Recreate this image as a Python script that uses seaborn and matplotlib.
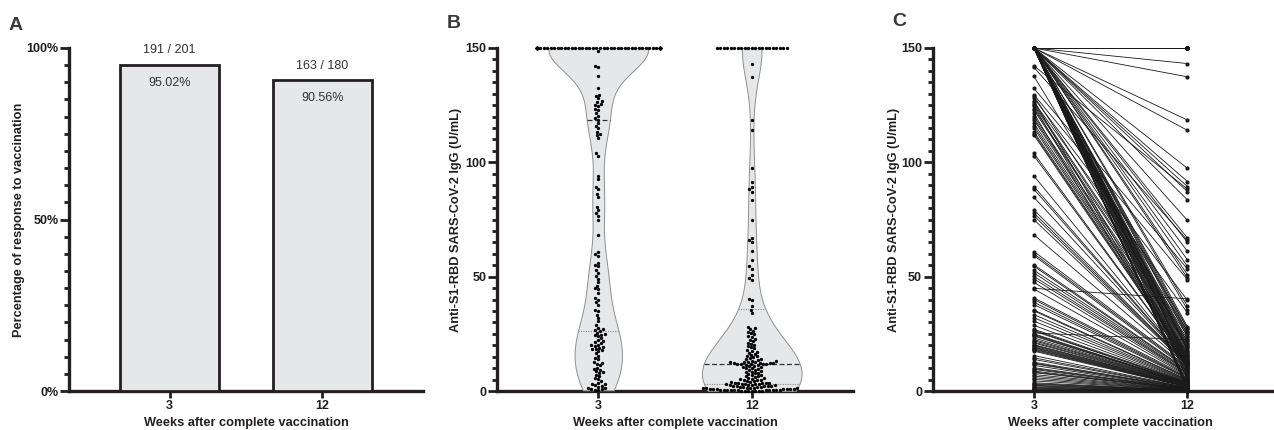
import warnings
import numpy as np
import pandas as pd
import matplotlib
matplotlib.use("Agg")
import matplotlib.pyplot as plt
from matplotlib.ticker import MultipleLocator
import seaborn as sns

# ---------------- data ----------------
weeks = ["3", "12"]
responders = [191, 163]
totals = [201, 180]

paired_week3 = [150.0] * 72 + [
    142.2, 141.5, 137.6, 132.3, 129.5, 129, 128, 127, 126.3, 125.7, 125, 124.6, 123.5, 122.8, 121.4, 120.2, 119.2,
    118.5, 117, 115.8, 114.8, 113.4, 112.6, 111.9, 103.9, 102.8, 94, 89.4, 88.2, 84.7, 79.2, 77.8, 76.6, 74.9,
    68.3, 61, 60, 59.2, 55.2, 54.5, 52.8, 51.6, 50.1, 49, 47.5, 44.9, 44.6, 40.7, 40, 38.8, 37.8, 35.4, 35, 33.4,
    32, 30.5, 28.7, 27, 26.5, 26.2,
    25.4, 25, 24.7, 24.3, 24, 23.2, 22.5, 22, 21.4, 21, 20.3, 20, 19.6, 19.2, 18.9, 18.5, 18.2, 17.8, 17.4, 15.5,
    14.5, 13.8, 12.6, 12.2, 11.9, 11.2, 10.2, 9.8, 9.4, 8.7, 8.3, 8, 7.2, 6.5, 5.8, 5.1, 4.4, 3.6, 3.2, 2.9, 2.5,
    2.2, 1.8, 1.5, 1.2, 0.9, 0.7, 0.3,
]

paired_week12 = [150.0] * 21 + [
    143.2, 137.4, 118.5, 114, 97.4, 91.6, 89.4, 87.2, 83.6, 74.6, 66.9, 65, 61.1, 57.4, 54.5, 50.9, 49.4, 18.6,
    37.1, 35.6, 28.2, 27.1, 25.9, 24.8, 23.7, 17.7, 21.2, 20.1, 19.2, 18.1, 17.2, 16.3, 15.4, 14.7, 14.0, 13.3,
    12.8, 12.5, 12.2, 11.6, 10.4, 9.3, 8.3, 7.2, 6.2, 5.2, 2.8, 2.2, 1.6, 1.0, 0.6,
    88.3, 65.9, 27.6, 53.4, 48.7, 26.4, 39.7, 11.9, 34.2, 25.3, 24.1, 10.9, 22.9, 21.8, 9.9, 20.7, 19.5,
    16.8, 15.9, 15.1, 14.4, 13.8, 13.5, 13.0, 12.7, 12.6, 12.4, 12.3, 12.1, 12.0, 12.0, 11.8, 11.5, 11.3, 11.1,
    10.6, 10.1, 9.6, 9.1, 8.8, 8.5, 8.0, 7.8, 7.5, 7.0, 40.3, 6.7, 6.4, 5.9, 5.7, 5.4, 5.0, 4.8, 4.6, 4.4, 4.2,
    4.0, 3.9, 3.7, 3.6,
    22.4, 3.5, 3.4, 3.3, 3.2, 3.1, 3.05, 3.0, 2.9, 2.7, 2.6, 2.5, 2.4, 2.3, 2.1, 2.0, 1.9, 1.8, 1.7, 1.5, 1.45,
    1.4, 1.3, 1.2, 1.1, 0.95, 0.9, 0.85, 0.8, 0.75, 0.7, 0.65, 0.55, 0.5, 0.45, 0.4, 0.4, 0.35, 0.3, 0.3, 0.25,
    0.2, 0.2, 0.15, 0.1, 0.1, 0.05, 0.05,
]

unpaired_week3 = [150.0] * 10 + [148.8, 110.5, 92.5, 86, 80.6, 56, 46, 43, 27.5, 16.5, 0.5]

violin_bw = {"3": 0.5, "12": 0.75}

x_label = "Weeks after complete vaccination"
ylabel_a = "Percentage of response to vaccination"
ylabel_bc = "Anti-S1-RBD SARS-CoV-2 IgG (U/mL)"

# ---------------- style ----------------
sns.set_theme(style="ticks")
plt.rcParams["font.family"] = ["Liberation Sans", "DejaVu Sans"]
plt.rcParams["font.weight"] = "bold"
plt.rcParams["axes.labelweight"] = "bold"

INK = "#231f20"
FILL = "#e6e7e8"
TICK_FS = 9.0
LABEL_FS = 9.2

W, H = 1274, 430
fig = plt.figure(figsize=(W / 100, H / 100), dpi=100)


def px_axes(left, right, top, bottom):
    return fig.add_axes([left / W, 1 - bottom / H, (right - left) / W, (bottom - top) / H])


axA = px_axes(69, 423, 48, 391)
axB = px_axes(497, 853, 48, 391)
axC = px_axes(932.7, 932.7 + 356, 48, 391)

# ---------------- panel A ----------------
pct = [100.0 * r / t for r, t in zip(responders, totals)]
dfA = pd.DataFrame({"week": weeks, "pct": pct})
sns.barplot(data=dfA, x="week", y="pct", order=weeks, color=FILL, saturation=1,
            edgecolor=INK, linewidth=2.0, width=0.65, ax=axA)
for i, (r, t, p) in enumerate(zip(responders, totals, pct)):
    axA.annotate(f"{r} / {t}", (i, p), xytext=(0, 10.5), textcoords="offset points",
                 ha="center", va="center", fontsize=9, fontweight="normal", color="#333333")
    axA.annotate(f"{p:.2f}%", (i, p), xytext=(0, -13), textcoords="offset points",
                 ha="center", va="center", fontsize=9, fontweight="normal", color="#333333")
axA.set_ylim(0, 100)
axA.set_yticks([0, 50, 100])
axA.set_yticklabels(["0%", "50%", "100%"])

# ---------------- panel B ----------------
week3_all = paired_week3 + unpaired_week3
dfB = pd.DataFrame({
    "week": ["3"] * len(week3_all) + ["12"] * len(paired_week12),
    "value": week3_all + paired_week12,
})
for wk in weeks:
    sns.violinplot(data=dfB[dfB["week"] == wk], x="week", y="value", order=weeks, color=FILL,
                   saturation=1, linecolor="#8f8f8f", linewidth=0.7, inner="quart", cut=0,
                   density_norm="width", width=0.65, bw_adjust=violin_bw[wk], ax=axB)
for k, ln in enumerate(axB.lines):
    if k % 3 == 1:
        ln.set_color("#333333")
        ln.set_linestyle((0, (4, 2)))
        ln.set_linewidth(0.9)
    else:
        ln.set_color("#8a8a8a")
        ln.set_linestyle((0, (1, 1.2)))
        ln.set_linewidth(0.8)
with warnings.catch_warnings():
    warnings.simplefilter("ignore")
    sns.swarmplot(data=dfB, x="week", y="value", order=weeks, color="black", size=2.4, ax=axB)
for coll in axB.collections:
    coll.set_clip_on(False)
axB.set_ylim(0, 150)

# ---------------- panel C ----------------
n = len(paired_week12)
dfC = pd.DataFrame({
    "subject": list(range(n)) * 2,
    "week": ["3"] * n + ["12"] * n,
    "value": paired_week3 + paired_week12,
})
dfC["pos"] = dfC["week"].map({w: i for i, w in enumerate(weeks)})
sns.lineplot(data=dfC, x="pos", y="value", units="subject", estimator=None, sort=False,
             color="#1a1a1a", linewidth=0.6, marker="o", markersize=3, markeredgewidth=0,
             legend=False, ax=axC)
for ln in axC.lines:
    ln.set_clip_on(False)
axC.set_ylim(0, 150)

for ax in (axB, axC):
    ax.set_yticks([0, 50, 100, 150])

# ---------------- common axis styling ----------------
for ax, ylab in [(axA, ylabel_a), (axB, ylabel_bc), (axC, ylabel_bc)]:
    ax.set_xlim(-0.66, 1.66)
    ax.set_xticks(range(len(weeks)))
    ax.set_xticklabels(weeks)
    ax.yaxis.set_minor_locator(MultipleLocator(5))
    ax.xaxis.set_minor_locator(plt.NullLocator())
    for side in ["top", "right"]:
        ax.spines[side].set_visible(False)
    for side in ["left", "bottom"]:
        ax.spines[side].set_linewidth(2.4)
        ax.spines[side].set_color(INK)
        ax.spines[side].set_zorder(0.5)
    ax.tick_params(axis="y", which="major", length=6.5, width=2, color=INK, labelsize=TICK_FS,
                   pad=1.2, labelcolor=INK)
    ax.tick_params(axis="y", which="minor", length=3.8, width=2, color=INK)
    ax.tick_params(axis="x", which="major", length=5, width=2, color=INK, labelsize=TICK_FS,
                   pad=1.2, labelcolor=INK)
    ax.set_xlabel(x_label, fontsize=LABEL_FS, fontweight="bold", color=INK)
    ax.set_ylabel(ylab, fontsize=LABEL_FS, fontweight="bold", color=INK)
    ax.xaxis.set_label_coords(0.5, -0.075)
    ax.set_facecolor("none")

axA.yaxis.set_label_coords((25 - 69) / 356, 0.5)
axB.yaxis.set_label_coords((462 - 497) / 356, 0.5)
axC.yaxis.set_label_coords((900 - 932.7) / 356, 0.5)

for letter, xp, yp in [("A", 9, 26), ("B", 447, 24), ("C", 892, 22)]:
    fig.text(xp / W, 1 - yp / H, letter, fontsize=14, fontweight="bold", color="#3a3a3a",
             ha="left", va="center")

fig.savefig("out.png", dpi=100)
